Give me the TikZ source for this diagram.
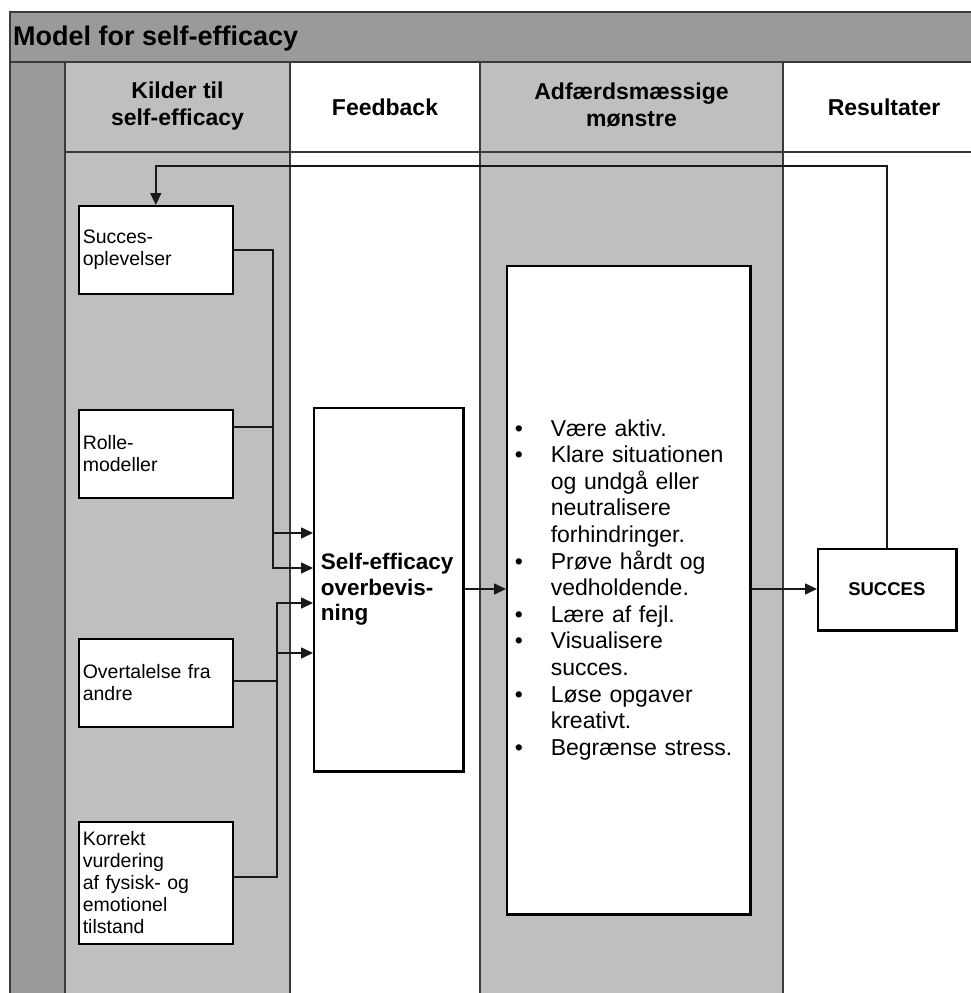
\documentclass[tikz,border=0pt]{standalone}
\usepackage{fontspec}
\setmainfont{Liberation Sans}
\usetikzlibrary{arrows.meta}
\definecolor{darkfill}{HTML}{9A9A9A}
\definecolor{lightfill}{HTML}{BFBFBF}
\definecolor{linegray}{HTML}{3A3A3A}
\newcommand*\lbul{\makebox[36pt][l]{•}}
\newcommand*\lind{\hspace*{36pt}}
\begin{document}
\begin{tikzpicture}[x=1pt,y=-1pt,
  grid/.style={draw=linegray,line width=2pt},
  srcbox/.style={draw=black,line width=1.6pt,fill=white,anchor=north west,
    minimum width=154pt,text width=146pt,inner xsep=4pt,inner ysep=0pt,
    align=left,font=\fontsize{19.5}{22}\selectfont},
  bigbox/.style={draw=black,line width=1.6pt,fill=white,anchor=north west,
    inner ysep=0pt,align=left},
  shadowedge/.style={draw=black,line width=3pt},
  conn/.style={draw=black!90,line width=1.6pt},
  arr/.style={conn,-{Triangle[length=12pt,width=11pt]}},
  head/.style={font=\bfseries\fontsize{23}{27.5}\selectfont,align=center}
]
\useasboundingbox (0,0) rectangle (971,993);
\fill[white] (0,0) rectangle (971,993);
% columns
\fill[darkfill] (10,62) rectangle (65,993);
\fill[lightfill] (65,62) rectangle (290,993);
\fill[lightfill] (480,62) rectangle (783,993);
% grid lines
\draw[grid] (10,62) -- (10,993);
\draw[grid] (65,62) -- (65,993);
\draw[grid] (290,62) -- (290,993);
\draw[grid] (480,62) -- (480,993);
\draw[grid] (783,62) -- (783,993);
\draw[grid] (65,152) -- (980,152);
% title bar
\draw[grid,fill=darkfill] (10,12) rectangle (980,62);
\node[anchor=base west,inner sep=0pt,font=\bfseries\fontsize{27}{30}\selectfont] (title) at (13,45) {Model for self-efficacy};
% headers
\node[head] (h1) at (177.5,106) {Kilder til\\self-efficacy};
\node[head] (h2) at (385,107) {Feedback};
\node[head] (h3) at (631.5,105) {Adfærdsmæssige\\mønstre};
\node[head] (h4) at (884,107) {Resultater};
% source boxes
\node[srcbox,minimum height=88pt] (succes) at (78,205) {Succes-\\oplevelser};
\node[srcbox,minimum height=88pt] (rolle) at (78,409) {Rolle-\\modeller};
\node[srcbox,minimum height=88pt] (overt) at (78,638) {Overtalelse fra\\andre};
\node[srcbox,minimum height=122pt] (korrekt) at (78,821) {Korrekt\\vurdering\\af fysisk- og\\emotionel\\tilstand};
% self-efficacy box
\node[bigbox,minimum width=149pt,minimum height=363pt,text width=135pt,inner xsep=7pt,
  font=\bfseries\fontsize{22.5}{25.5}\selectfont] (self) at (313,407) {Self-efficacy\\overbevis-\\ning};
\draw[shadowedge] (self.north east) -- (self.south east) -- (self.south west);
% behaviour box
\node[bigbox,minimum width=243pt,minimum height=648pt,text width=227pt,inner xsep=8pt,
  font=\fontsize{23}{26.6}\selectfont] (adf) at (506,265) {%
\lbul Være aktiv.\\
\lbul Klare situationen\\
\lind og undgå eller\\
\lind neutralisere\\
\lind forhindringer.\\
\lbul Prøve hårdt og\\
\lind vedholdende.\\
\lbul Lære af fejl.\\
\lbul Visualisere\\
\lind succes.\\
\lbul Løse opgaver\\
\lind kreativt.\\
\lbul Begrænse stress.};
\draw[shadowedge] (adf.north east) -- (adf.south east) -- (adf.south west);
% result box
\node[bigbox,minimum width=138pt,minimum height=81pt,align=center,inner xsep=0pt,
  font=\bfseries\fontsize{18.5}{22}\selectfont] (res) at (817,548) {SUCCES};
\draw[shadowedge] (res.north east) -- (res.south east) -- (res.south west);
% connectors
\draw[arr] (succes.east) -| (273,533) -- (self.west |- 0,533);
\draw[arr] (rolle.east |- 0,427) -| (273,568) -- (self.west |- 0,568);
\draw[arr] (overt.east |- 0,681) -| (277,603) -- (self.west |- 0,603);
\draw[arr] (korrekt.east |- 0,877) -| (277,653) -- (self.west |- 0,653);
\draw[arr] (self.east |- 0,589) -- (adf.west |- 0,589);
\draw[arr] (adf.east |- 0,589) -- (res.west |- 0,589);
\draw[arr] (res.north) |- (succes.north |- 0,166) -- (succes.north);
\end{tikzpicture}
\end{document}
